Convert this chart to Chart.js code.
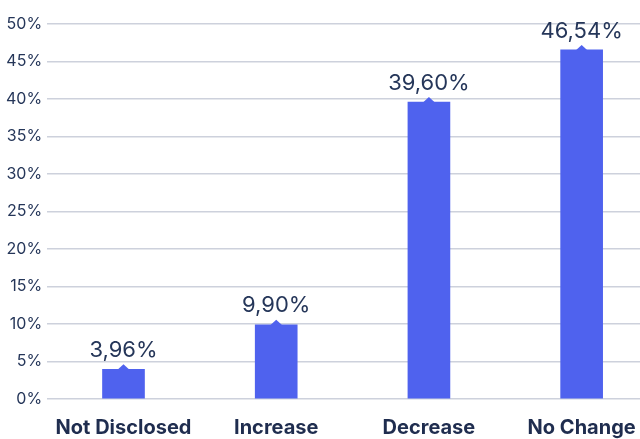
<!DOCTYPE html>
<html>
<head>
<meta charset="utf-8">
<script src="https://cdn.jsdelivr.net/npm/chart.js@4.4.0/dist/chart.umd.min.js"></script>
<style>
  html, body { margin: 0; padding: 0; background: #ffffff; overflow: hidden; }
  #frame { width: 640px; height: 439px; overflow: hidden; position: relative; }
  #wrap { width: 658px; height: 449px; position: absolute; left: 0; top: 0; }
</style>
</head>
<body>
<div id="frame"><div id="wrap"><canvas id="myChart"></canvas></div></div>
<script>
const categories = ['Not Disclosed', 'Increase', 'Decrease', 'No Change'];
const shares = [3.96, 9.90, 39.60, 46.54];
const valueLabels = ['3,96%', '9,90%', '39,60%', '46,54%'];

const navy = '#253659';
const barBlue = '#4f62ee';

// label above each bar plus the little notch on top
const topLabels = {
    id: 'topLabels',
    afterDatasetsDraw(chart) {
        const c = chart.ctx;
        const meta = chart.getDatasetMeta(0);
        meta.data.forEach((bar, i) => {
            c.save();
            c.fillStyle = barBlue;
            c.beginPath();
            c.moveTo(bar.x - 6, bar.y + 0.5);
            c.lineTo(bar.x, bar.y - 5);
            c.lineTo(bar.x + 6, bar.y + 0.5);
            c.closePath();
            c.fill();
            c.fillStyle = navy;
            c.font = '22px Inter, sans-serif';
            c.textAlign = 'center';
            c.textBaseline = 'bottom';
            c.fillText(valueLabels[i], bar.x, bar.y - 8);
            c.restore();
        });
    }
};

const ctx = document.getElementById('myChart').getContext('2d');
const myChart = new Chart(ctx, {
    type: 'bar',
    data: {
        labels: categories,
        datasets: [{
            data: shares,
            backgroundColor: barBlue,
            barThickness: 42
        }]
    },
    options: {
        responsive: true,
        maintainAspectRatio: false,
        animation: false,
        layout: { padding: { top: 24, right: 0, left: 1, bottom: 0 } },
        plugins: {
            legend: { display: false },
            tooltip: { enabled: false }
        },
        scales: {
            x: {
                grid: { display: false },
                border: { display: false },
                ticks: {
                    color: '#1f2d4f',
                    font: { family: 'Inter, sans-serif', size: 20, weight: 'bold' },
                    padding: 9
                }
            },
            y: {
                min: 0,
                max: 50,
                border: { display: false },
                grid: { color: '#cdd1dc', lineWidth: 1.5, drawTicks: false },
                ticks: {
                    stepSize: 5,
                    color: navy,
                    font: { family: 'Inter, sans-serif', size: 16 },
                    padding: 5,
                    callback: v => v + '%'
                }
            }
        }
    },
    plugins: [topLabels]
});
</script>
</body>
</html>
